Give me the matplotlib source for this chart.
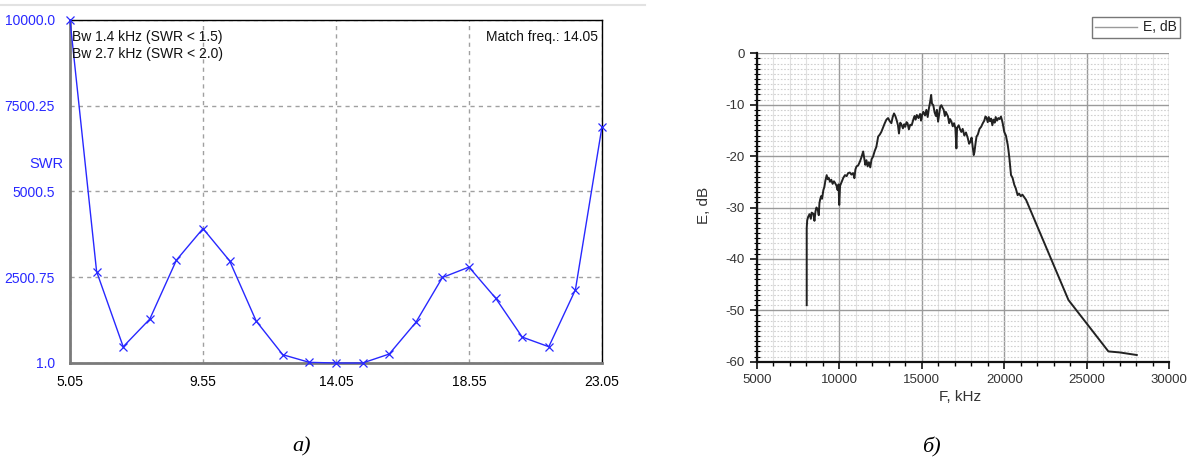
import matplotlib
matplotlib.use("Agg")
import matplotlib.pyplot as plt
from matplotlib.lines import Line2D
from matplotlib.ticker import MultipleLocator

plt.rcParams["axes.unicode_minus"] = False

# ---------------- data: panel a) SWR sweep ----------------
swr_freq = [5.05, 5.95, 6.85, 7.75, 8.65, 9.55, 10.45, 11.35, 12.25, 13.15, 14.05,
            14.95, 15.85, 16.75, 17.65, 18.55, 19.45, 20.35, 21.25, 22.15, 23.05]
swr_vals = [10000, 2668, 475, 1282, 3000, 3921, 2980, 1223, 242, 20, 1,
            1, 262, 1183, 2494, 2797, 1893, 757, 475, 2135, 6892]
swr_xticks = [5.05, 9.55, 14.05, 18.55, 23.05]
swr_xticklabels = ["5.05", "9.55", "14.05", "18.55", "23.05"]
swr_yticks = [1.0, 2500.75, 5000.5, 7500.25, 10000.0]
swr_yticklabels = ["1.0", "2500.75", "5000.5", "7500.25", "10000.0"]

# ---------------- data: panel б) spectrum ----------------
spec_f = [8030, 8030, 8060, 8120, 8200, 8280, 8330, 8430, 8500, 8560, 8620, 8700, 8760, 8800,
          8840, 8900, 8960, 9040, 9100, 9160, 9240, 9300, 9360, 9440, 9520, 9600, 9680, 9745,
          9840, 9900, 9960, 10000, 10050, 10150, 10250, 10350, 10450, 10540, 10640, 10740,
          10840, 10920, 10980, 11050, 11150, 11250, 11350, 11450, 11520, 11580, 11650, 11720,
          11800, 11880, 11960, 12050, 12150, 12250, 12360, 12460, 12550, 12650, 12760, 12860,
          12960, 13060, 13160, 13240, 13320, 13400, 13480, 13560, 13620, 13700, 13780, 13860,
          13940, 14000, 14080, 14140, 14220, 14300, 14390, 14480, 14560, 14630, 14700, 14800,
          14900, 14960, 15020, 15100, 15200, 15280, 15360, 15440, 15500, 15570, 15620, 15700,
          15780, 15860, 15920, 15990, 16060, 16120, 16190, 16260, 16330, 16400, 16460, 16530,
          16590, 16660, 16720, 16800, 16880, 16960, 17040, 17100, 17140, 17240, 17320, 17400,
          17480, 17580, 17680, 17790, 17870, 17950, 18020, 18100, 18150, 18190, 18260, 18320,
          18400, 18500, 18600, 18700, 18790, 18860, 18920, 19000, 19060, 19130, 19200, 19280,
          19340, 19420, 19480, 19560, 19640, 19720, 19800, 19860, 19910, 20000, 20100, 20210,
          20260, 20310, 20360, 20410, 20500, 20560, 20610, 20700, 20810, 20900, 21000, 21100,
          21320, 23890, 26310, 27000, 28030]
spec_db = [-49.0, -34.0, -32.5, -31.8, -31.3, -32.2, -31.0, -31.2, -32.6, -30.8, -30.0, -30.4,
           -31.5, -29.2, -28.5, -27.8, -28.3, -26.6, -26.0, -24.8, -23.7, -24.5, -24.2, -25.0,
           -24.6, -25.4, -24.9, -25.2, -25.8, -26.6, -25.5, -29.5, -25.8, -25.0, -24.2, -23.7,
           -23.9, -23.3, -23.2, -23.6, -23.3, -24.3, -22.6, -22.0, -21.8, -21.1, -20.2, -19.1,
           -20.5, -21.7, -20.8, -22.0, -21.2, -22.2, -20.6, -20.1, -19.0, -18.2, -16.2, -15.8,
           -15.3, -14.5, -13.6, -12.9, -12.6, -13.2, -13.6, -12.4, -11.7, -12.2, -13.0, -14.0,
           -15.6, -13.5, -13.9, -14.6, -13.8, -14.3, -13.4, -13.6, -14.8, -13.9, -14.0, -13.0,
           -12.2, -12.9, -12.0, -12.6, -11.8, -13.1, -12.0, -11.4, -12.1, -11.0, -12.4, -10.6,
           -9.6, -8.1, -9.8, -10.1, -11.5, -12.2, -11.0, -13.3, -11.8, -10.4, -10.1, -10.6,
           -11.0, -12.2, -11.4, -11.9, -12.3, -13.6, -12.8, -13.3, -14.2, -13.6, -14.6, -18.5,
           -14.5, -14.0, -14.8, -15.3, -14.7, -16.0, -15.4, -16.5, -17.6, -17.2, -16.4, -18.4,
           -19.8, -19.3, -17.5, -16.2, -15.8, -14.7, -14.3, -13.6, -13.1, -12.3, -12.5, -13.4,
           -12.4, -13.2, -12.7, -14.0, -12.9, -13.5, -12.4, -13.1, -12.6, -12.8, -12.3, -13.0,
           -13.7, -15.3, -16.0, -17.8, -19.0, -20.4, -22.1, -23.7, -24.2, -25.0, -25.6, -26.3,
           -27.6, -27.3, -27.8, -27.5, -28.5, -48.0, -58.0, -58.2, -58.7]
spec_label = "E, dB"

W, H = 1191, 463
fig = plt.figure(figsize=(W / 100, H / 100), dpi=100)
fig.patch.set_facecolor("white")


def ax_rect(x0, y0, x1, y1):
    return [x0 / W, 1 - y1 / H, (x1 - x0) / W, (y1 - y0) / H]


# faint window edge at the top of the screenshot
fig.add_artist(Line2D([0, 645 / W], [1 - 4.5 / H, 1 - 4.5 / H], transform=fig.transFigure,
                      color="#e2e2e2", lw=1.5))

# ---------------- panel a ----------------
blue = "#2828ff"
axa = fig.add_axes(ax_rect(70, 20, 602, 363))
axa.plot(swr_freq, swr_vals, color=blue, lw=1.0, marker="x", ms=5.5, mew=0.9, zorder=3,
         clip_on=False)
axa.set_xlim(5.05, 23.05)
axa.set_ylim(1.0, 10000.0)
axa.set_xticks(swr_xticks)
axa.set_xticklabels(swr_xticklabels)
axa.set_yticks(swr_yticks)
axa.set_yticklabels(swr_yticklabels)
axa.tick_params(axis="both", length=0, labelsize=10)
axa.tick_params(axis="y", colors=blue, pad=11)
axa.tick_params(axis="x", colors="black", pad=9)
for lab in axa.get_xticklabels() + axa.get_yticklabels():
    lab.set_fontfamily("Liberation Sans")
axa.grid(True, color="#a0a0a0", linestyle=(0, (3, 3)), lw=1.0, zorder=1)
for s in ("left", "bottom"):
    axa.spines[s].set_color("#7a7a7a")
    axa.spines[s].set_linewidth(2.0)
for s in ("top", "right"):
    axa.spines[s].set_color("black")
    axa.spines[s].set_linewidth(1.0)
axa.text(0.004, 0.950, "Bw 1.4 kHz (SWR < 1.5)", transform=axa.transAxes, ha="left",
         va="center", fontsize=10, family="Liberation Sans", color="#111111")
axa.text(0.004, 0.901, "Bw 2.7 kHz (SWR < 2.0)", transform=axa.transAxes, ha="left",
         va="center", fontsize=10, family="Liberation Sans", color="#111111")
axa.text(0.992, 0.950, "Match freq.: 14.05", transform=axa.transAxes, ha="right",
         va="center", fontsize=10, family="Liberation Sans", color="#111111")
fig.text(46 / W, 1 - 164 / H, "SWR", ha="center", va="center", fontsize=10.5,
         family="Liberation Sans", color=blue)

# ---------------- panel б ----------------
axb = fig.add_axes(ax_rect(756.7, 53.3, 1169.3, 361.7))
axb.plot(spec_f, spec_db, color="#222222", lw=1.4, zorder=3, label=spec_label)
axb.set_xlim(5000, 30000)
axb.set_ylim(-60, 0)
axb.xaxis.set_major_locator(MultipleLocator(5000))
axb.xaxis.set_minor_locator(MultipleLocator(1000))
axb.yaxis.set_major_locator(MultipleLocator(10))
axb.yaxis.set_minor_locator(MultipleLocator(1))
axb.grid(True, which="major", color="#9a9a9a", lw=1.0, zorder=1)
axb.grid(True, which="minor", axis="x", color="#e0e0e0", lw=0.8, zorder=0)
axb.grid(True, which="minor", axis="y", color="#d0d0d0", lw=0.8, linestyle=(0, (1.5, 1.5)),
         zorder=0)
for s in ("top", "right"):
    axb.spines[s].set_visible(False)
for s in ("left", "bottom"):
    axb.spines[s].set_color("#111111")
    axb.spines[s].set_linewidth(1.6)
axb.tick_params(axis="both", which="major", direction="out", length=5, width=1.2,
                labelsize=9.5, labelcolor="#333333", colors="#111111")
axb.tick_params(axis="y", which="minor", direction="inout", length=4, width=0.8)
axb.tick_params(axis="x", which="minor", direction="out", length=3, width=1.0)
for lab in axb.get_xticklabels() + axb.get_yticklabels():
    lab.set_fontfamily("Liberation Sans")
fig.text(960 / W, 1 - 397 / H, "F, kHz", ha="center", va="center", fontsize=11,
         family="Liberation Sans", color="#333333")
fig.text(704 / W, 1 - 205 / H, "E, dB", ha="center", va="center", rotation=90, fontsize=11,
         family="Liberation Sans", color="#333333")
proxy = Line2D([], [], color="#9a9a9a", lw=1.0)
leg = axb.legend([proxy], [spec_label], loc="upper right",
                 bbox_to_anchor=(1180 / W, 1 - 17 / H), bbox_transform=fig.transFigure,
                 fancybox=False, framealpha=1, edgecolor="#777777", fontsize=10,
                 handlelength=3.0, borderpad=0.25, handletextpad=0.4, borderaxespad=0)
for t in leg.get_texts():
    t.set_fontfamily("Liberation Sans")
    t.set_color("#222222")

# ---------------- captions ----------------
fig.text(302 / W, 1 - 447 / H, "а)", ha="center", va="center", fontsize=16,
         family="Liberation Serif", style="italic")
fig.text(931 / W, 1 - 447 / H, "б)", ha="center", va="center", fontsize=16,
         family="Liberation Serif", style="italic")

fig.savefig("out.png", dpi=100, facecolor="white")
